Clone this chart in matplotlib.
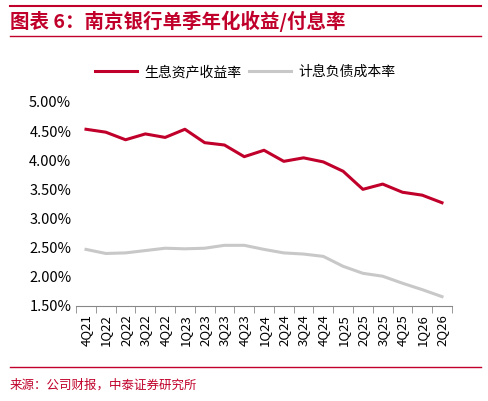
import matplotlib.pyplot as plt
import numpy as np
from matplotlib.ticker import FuncFormatter

plt.rcParams['font.family'] = ['Noto Sans CJK SC', 'DejaVu Sans']

quarters = ["4Q21", "1Q22", "2Q22", "3Q22", "4Q22", "1Q23", "2Q23", "3Q23", "4Q23", "1Q24",
            "2Q24", "3Q24", "4Q24", "1Q25", "2Q25", "3Q25", "4Q25", "1Q26", "2Q26"]
asset_yield = [4.53, 4.48, 4.35, 4.45, 4.39, 4.53, 4.30, 4.26, 4.06, 4.17,
               3.98, 4.04, 3.97, 3.81, 3.50, 3.59, 3.45, 3.40, 3.27]
liab_cost = [2.47, 2.40, 2.41, 2.45, 2.49, 2.48, 2.49, 2.54, 2.54, 2.47,
             2.41, 2.39, 2.35, 2.18, 2.06, 2.01, 1.89, 1.78, 1.66]

RED = "#c0002a"
GRAY = "#c8c8c8"

fig = plt.figure(figsize=(4.88, 4.01), dpi=100)
ax = fig.add_axes([0.156, 0.237, 0.77, 0.509])
x = np.arange(len(quarters))
ax.plot(x, asset_yield, color=RED, lw=2.2, label="生息资产收益率")
ax.plot(x, liab_cost, color=GRAY, lw=2.2, label="计息负债成本率")

ax.set_ylim(1.5, 5.0)
ax.set_yticks(np.arange(1.5, 5.01, 0.5))
ax.yaxis.set_major_formatter(FuncFormatter(lambda v, p: f"{v:.2f}%"))
ax.set_xlim(-0.5, len(quarters) - 0.5)
ax.set_xticks(x)
ax.set_xticklabels(quarters, rotation=90, fontsize=9.5)
ax.set_xticks(np.arange(-0.5, len(quarters), 1), minor=True)
ax.tick_params(axis='x', which='major', length=0, pad=6)
ax.tick_params(axis='x', which='minor', length=5, color="#888888")
ax.tick_params(axis='y', length=0, labelsize=10.5)
for s in ["top", "right", "left"]:
    ax.spines[s].set_visible(False)
ax.spines["bottom"].set_color("#888888")

ax.legend(loc="lower center", bbox_to_anchor=(0.45, 1.05), ncol=2, frameon=False,
          fontsize=10, handlelength=3, columnspacing=0.6, handletextpad=0.5)

# header and footer
fig.add_artist(plt.Line2D([0.02, 0.985], [0.985, 0.985], color=RED, lw=1.5))
fig.add_artist(plt.Line2D([0.02, 0.985], [0.91, 0.91], color=RED, lw=1))
fig.text(0.02, 0.947, "图表 6：南京银行单季年化收益/付息率", color=RED, fontsize=14,
         fontweight="bold", style="italic", va="center")
fig.add_artist(plt.Line2D([0.02, 0.985], [0.085, 0.085], color=RED, lw=1))
fig.text(0.02, 0.04, "来源：公司财报，中泰证券研究所", color=RED, fontsize=9, va="center")

fig.savefig("out.png", dpi=100)
